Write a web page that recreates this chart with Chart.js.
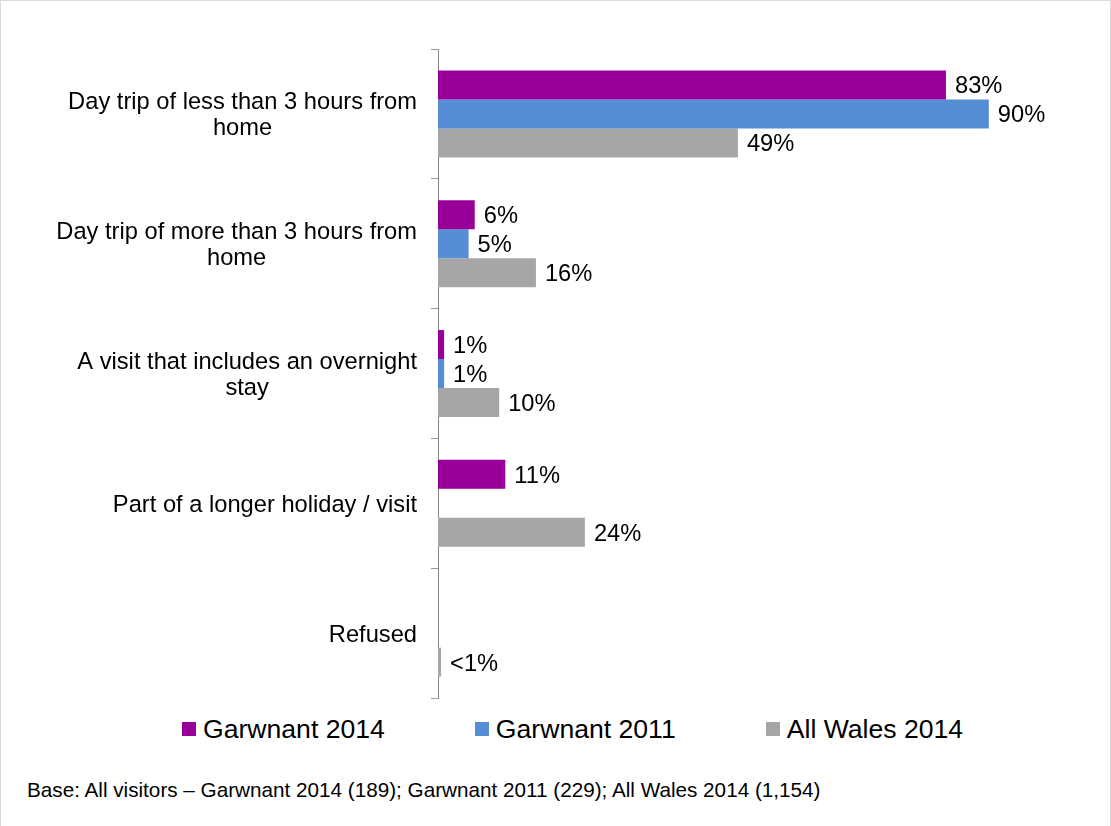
<!DOCTYPE html>
<html>
<head>
<meta charset="utf-8">
<title>Garwnant - type of visit</title>
<script src="https://cdn.jsdelivr.net/npm/chart.js@4.4.1/dist/chart.umd.min.js"></script>
<style>
    body { margin: 0; background: #fff; font-family: "Liberation Sans", Arial, sans-serif; }
    #wrap { position: relative; width: 1111px; height: 826px; overflow: hidden; background: #fff; }
    #frame { position: absolute; left: 0; top: 0; width: 1111px; height: 826px; box-sizing: border-box;
             border: 1px solid #d9d9d9; border-bottom: none; pointer-events: none; }
    #chartBox { position: absolute; left: 0; top: 0; width: 1111px; height: 700px; }
    #legend { position: absolute; left: 182px; top: 714px; height: 30px; display: flex; align-items: center;
              gap: 90px; font-size: 26.6px; color: #000; white-space: nowrap; }
    #legend .item { display: flex; align-items: center; }
    #legend .box { width: 14px; height: 14px; margin-right: 7px; }
    #note { position: absolute; left: 27px; top: 777px; font-size: 20.7px; line-height: 25px; color: #000; white-space: nowrap; }
</style>
</head>
<body>
<div id="wrap">
    <div id="chartBox"><canvas id="myChart"></canvas></div>
    <div id="legend"></div>
    <div id="note">Base: All visitors – Garwnant 2014 (189); Garwnant 2011 (229); All Wales 2014 (1,154)</div>
    <div id="frame"></div>
</div>
<script>
var kategori = [
    ['Day trip of less than 3 hours from', 'home'],
    ['Day trip of more than 3 hours from', 'home'],
    ['A visit that includes an overnight', 'stay'],
    ['Part of a longer holiday / visit'],
    ['Refused']
];
var garwnant2014 = [83, 6, 1, 11, null];
var garwnant2011 = [90, 5, 1, null, null];
var allWales2014 = [49, 16, 10, 24, 0.5];
var namaSeri = ['Garwnant 2014', 'Garwnant 2011', 'All Wales 2014'];
var warna = ['#990099', '#558ED5', '#A6A6A6'];

var fontLabel = '23.7px "Liberation Sans", Arial, sans-serif';

function teksPersen(v) {
    return v < 1 ? '<1%' : v + '%';
}

// category names: each block right-aligned to the axis, lines centred inside it
var labelKategori = {
    id: 'labelKategori',
    afterDraw: function(chart) {
        var ctx = chart.ctx;
        var yScale = chart.scales.y;
        var kanan = chart.chartArea.left - 21;
        ctx.save();
        ctx.font = fontLabel;
        ctx.fillStyle = '#000';
        ctx.textAlign = 'center';
        ctx.textBaseline = 'middle';
        kategori.forEach(function(baris, i) {
            var lebar = 0;
            baris.forEach(function(t) { lebar = Math.max(lebar, ctx.measureText(t).width); });
            var cx = kanan - lebar / 2;
            var cy = yScale.getPixelForTick(i) + 2;
            baris.forEach(function(t, j) {
                ctx.fillText(t, cx, cy + (j - (baris.length - 1) / 2) * 26);
            });
        });
        ctx.restore();
    }
};

// value labels at the end of each bar
var labelNilai = {
    id: 'labelNilai',
    afterDatasetsDraw: function(chart) {
        var ctx = chart.ctx;
        ctx.save();
        ctx.font = fontLabel;
        ctx.fillStyle = '#000';
        ctx.textAlign = 'left';
        ctx.textBaseline = 'middle';
        chart.data.datasets.forEach(function(ds, d) {
            var meta = chart.getDatasetMeta(d);
            meta.data.forEach(function(bar, i) {
                var v = ds.data[i];
                if (v === null || v === undefined) return;
                ctx.fillText(teksPersen(v), bar.x + 9, bar.y + 2);
            });
        });
        ctx.restore();
    }
};

var ctx = document.getElementById('myChart').getContext('2d');
var barGraph = new Chart(ctx, {
    type: 'bar',
    data: {
        labels: kategori,
        datasets: [
            { label: namaSeri[0], data: garwnant2014, backgroundColor: warna[0] },
            { label: namaSeri[1], data: garwnant2011, backgroundColor: warna[1] },
            { label: namaSeri[2], data: allWales2014, backgroundColor: warna[2] }
        ]
    },
    options: {
        indexAxis: 'y',
        responsive: true,
        maintainAspectRatio: false,
        animation: false,
        categoryPercentage: 0.67,
        barPercentage: 1,
        layout: { padding: { top: 49, bottom: 2, left: 0, right: 61 } },
        scales: {
            x: { display: false, min: 0, max: 100 },
            y: {
                ticks: { display: false },
                grid: { drawOnChartArea: false, tickLength: 7, color: '#9a9a9a' },
                border: { color: '#868686' },
                afterFit: function(scale) { scale.width = 438; }
            }
        },
        plugins: {
            legend: { display: false },
            tooltip: { enabled: false }
        }
    },
    plugins: [labelKategori, labelNilai]
});

// legend under the chart, built from the datasets
var legend = document.getElementById('legend');
barGraph.data.datasets.forEach(function(ds) {
    var item = document.createElement('div');
    item.className = 'item';
    var box = document.createElement('span');
    box.className = 'box';
    box.style.background = ds.backgroundColor;
    var txt = document.createElement('span');
    txt.textContent = ds.label;
    item.appendChild(box);
    item.appendChild(txt);
    legend.appendChild(item);
});
</script>
</body>
</html>
